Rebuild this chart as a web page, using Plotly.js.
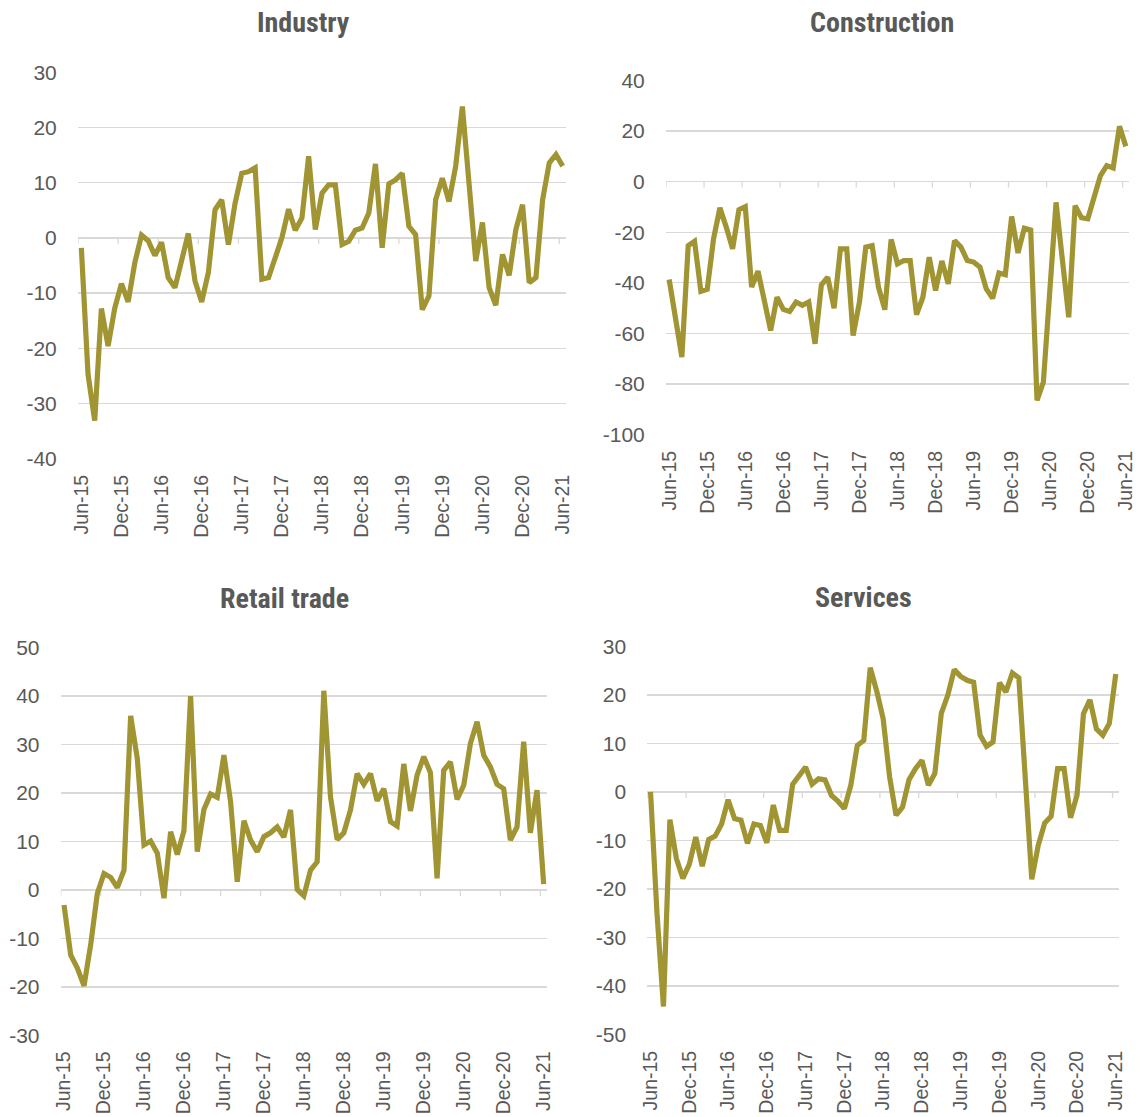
<!DOCTYPE html>
<html><head><meta charset="utf-8">
<script src="https://cdn.plot.ly/plotly-3.0.1.min.js"></script>
<style>body{margin:0;background:#fff}#chart{width:1140px;height:1117px}</style>
</head><body><div id="chart"></div><script>
const months = ["Jun-15","Jul-15","Aug-15","Sep-15","Oct-15","Nov-15","Dec-15",
"Jan-16","Feb-16","Mar-16","Apr-16","May-16","Jun-16","Jul-16","Aug-16","Sep-16","Oct-16","Nov-16","Dec-16",
"Jan-17","Feb-17","Mar-17","Apr-17","May-17","Jun-17","Jul-17","Aug-17","Sep-17","Oct-17","Nov-17","Dec-17",
"Jan-18","Feb-18","Mar-18","Apr-18","May-18","Jun-18","Jul-18","Aug-18","Sep-18","Oct-18","Nov-18","Dec-18",
"Jan-19","Feb-19","Mar-19","Apr-19","May-19","Jun-19","Jul-19","Aug-19","Sep-19","Oct-19","Nov-19","Dec-19",
"Jan-20","Feb-20","Mar-20","Apr-20","May-20","Jun-20","Jul-20","Aug-20","Sep-20","Oct-20","Nov-20","Dec-20",
"Jan-21","Feb-21","Mar-21","Apr-21","May-21","Jun-21"];

const industry = [-1.8,-24.7,-33.1,-12.8,-19.6,-12.7,-8.3,-11.6,-4.5,0.5,
-0.5,-3.2,-0.8,-7.2,-9.0,-4.2,0.8,-7.8,-11.6,-6.3,
5.1,6.9,-1.2,6.3,11.7,12.0,12.7,-7.5,-7.2,-3.6,
0.0,5.2,1.4,3.6,14.8,1.5,8.1,9.6,9.6,-1.2,
-0.6,1.4,1.8,4.5,13.4,-1.8,9.8,10.5,11.7,2.1,
0.6,-13.0,-10.5,6.9,10.8,6.6,13.0,23.8,9.0,-4.2,
2.8,-9.0,-12.2,-3.0,-6.8,1.5,6.0,-8.1,-7.2,6.9,
13.6,15.1,13.0];

const construction = [-38.7,-53,-69.3,-25.3,-23.6,-43.4,-42.6,-22.6,-10.4,-18.0,
-26.6,-11.1,-9.9,-41.7,-35.4,-47.0,-58.8,-45.7,-50.5,-51.3,
-47.6,-48.9,-47.6,-64.1,-40.8,-37.8,-50.0,-26.6,-26.6,-60.8,
-47.6,-25.9,-25.3,-41.7,-50.6,-22.9,-32.5,-31.2,-31.2,-52.6,
-45.7,-29.9,-43.0,-31.4,-40.4,-23.3,-25.9,-31.2,-31.8,-33.8,
-42.4,-46.1,-36.1,-36.8,-13.8,-28.2,-18.4,-19.1,-86.4,-79.2,
-43,-8.2,-31,-53.6,-9.5,-14.3,-14.7,-6.2,2.4,6.3,
5.4,21.8,13.9];

const retail = [-3.1,-13.4,-16.1,-19.8,-11.3,-0.7,3.4,2.6,0.5,4.1,
35.9,27.1,9.3,10.1,7.6,-1.7,12.0,7.3,12.2,40.0,
7.9,16.6,19.8,19.1,27.8,18.2,1.7,14.3,10.3,7.9,
11.0,11.8,13.0,10.9,16.5,0.1,-1.2,4.1,5.8,41.1,
19.2,10.4,11.8,16.5,24.0,21.8,24.0,18.4,20.9,14.1,
13.2,26.0,16.3,23.7,27.5,24.2,2.4,24.7,26.4,18.7,
21.6,30.2,34.7,27.8,25.4,21.8,20.9,10.3,13.0,30.6,
11.8,20.6,1.2];

const services = [0,-25,-44.2,-5.7,-13.7,-17.8,-14.9,-9.3,-15.3,-9.8,
-9.1,-6.6,-1.6,-5.5,-5.8,-10.6,-6.6,-6.9,-10.5,-2.7,
-7.9,-7.9,1.6,3.2,5.1,1.6,2.7,2.5,-0.7,-1.9,
-3.4,1.4,9.6,10.6,25.6,20.8,15.1,3.1,-4.8,-3.1,
2.5,4.8,6.5,1.4,3.8,16.2,19.9,25.2,23.8,23.0,
22.6,11.7,9.4,10.3,22.5,20.6,24.5,23.5,4,-18.0,
-11.0,-6.4,-5.0,4.8,4.8,-5.3,-0.7,16.1,19.0,13.0,
11.7,14.1,24.3];

const titles = ["Industry","Construction","Retail trade","Services"];
const series = [industry, construction, retail, services];
const yTicks = [
  [-40,-30,-20,-10,0,10,20,30],
  [-100,-80,-60,-40,-20,0,20,40],
  [-30,-20,-10,0,10,20,30,40,50],
  [-50,-40,-30,-20,-10,0,10,20,30]
];

const W = 1140, H = 1117;
// plot boxes in pixels: [left, right, top, bottom]
const boxes = [[78,566,72,459],[666,1129,80,435],[60.7,547,647.3,1035.7],[647.3,1119,646,1035]];
const titlePos = [[303,22],[882,22],[284,598],[863,597]];

const lineColor = "#A19433";
const textColor = "#595959";
const gridColor = "#d9d9d9";
const tickFontFam = "Liberation Sans, Arial, sans-serif";
const titleFontFam = "Roboto Condensed, Liberation Sans Narrow, Roboto, sans-serif";

const xIdx = months.map((m,i)=>i);
const labelIdx = xIdx.filter(i => i % 6 === 0);
const labelTxt = labelIdx.map(i => months[i]);
const boundaries = [];
for (let i = 0; i <= months.length - 1; i += 6) boundaries.push(i - 0.5);

const data = [];
const layout = {
  width: W, height: H,
  margin: {l:0,r:0,t:0,b:0},
  paper_bgcolor: "#fff", plot_bgcolor: "#fff",
  showlegend: false,
  annotations: [], shapes: []
};

series.forEach((vals, k) => {
  const n = k + 1;
  const xa = n === 1 ? "x" : "x" + n;
  const ya = n === 1 ? "y" : "y" + n;
  data.push({x: xIdx, y: vals, xaxis: xa, yaxis: ya, type: "scatter", mode: "lines",
    line: {color: lineColor, width: 5.2}, hoverinfo: "skip"});
  const b = boxes[k];
  const yt = yTicks[k];
  const lo = yt[0], hi = yt[yt.length-1];
  const pad = (hi - lo) * 0.0008;
  layout["xaxis" + (n===1?"":n)] = {
    domain: [b[0]/W, b[1]/W], anchor: ya,
    range: [-0.5, months.length - 0.5],
    tickmode: "array", tickvals: labelIdx, ticktext: labelTxt, tickangle: -90,
    showgrid: false, zeroline: false, showline: false,
    ticks: "outside", ticklen: 7, tickcolor: "rgba(0,0,0,0)",
    tickfont: {family: tickFontFam, size: 19.5, color: textColor},
    fixedrange: true
  };
  layout["yaxis" + (n===1?"":n)] = {
    domain: [1 - b[3]/H, 1 - b[2]/H], anchor: xa,
    range: [lo - pad, hi + pad],
    tickmode: "array", tickvals: yt, ticktext: yt.map(v => String(v)),
    showgrid: true, gridcolor: gridColor, gridwidth: 1.3,
    zeroline: true, zerolinecolor: gridColor, zerolinewidth: 1.3,
    showline: false,
    ticks: "outside", ticklen: 16, tickcolor: "rgba(0,0,0,0)",
    tickfont: {family: tickFontFam, size: 21, color: textColor},
    fixedrange: true
  };
  boundaries.forEach(bx => {
    layout.shapes.push({type: "line", xref: xa, yref: ya, ysizemode: "pixel", yanchor: 0,
      x0: bx, x1: bx, y0: 0, y1: -6, line: {color: gridColor, width: 1.3}, layer: "below"});
  });
  layout.annotations.push({text: titles[k], xref: "paper", yref: "paper",
    x: titlePos[k][0]/W, y: 1 - titlePos[k][1]/H, xanchor: "center", yanchor: "middle",
    showarrow: false, font: {family: titleFontFam, size: 28, color: textColor, weight: "bold"}});
});

Plotly.newPlot("chart", data, layout, {staticPlot: true, displayModeBar: false});
</script></body></html>
